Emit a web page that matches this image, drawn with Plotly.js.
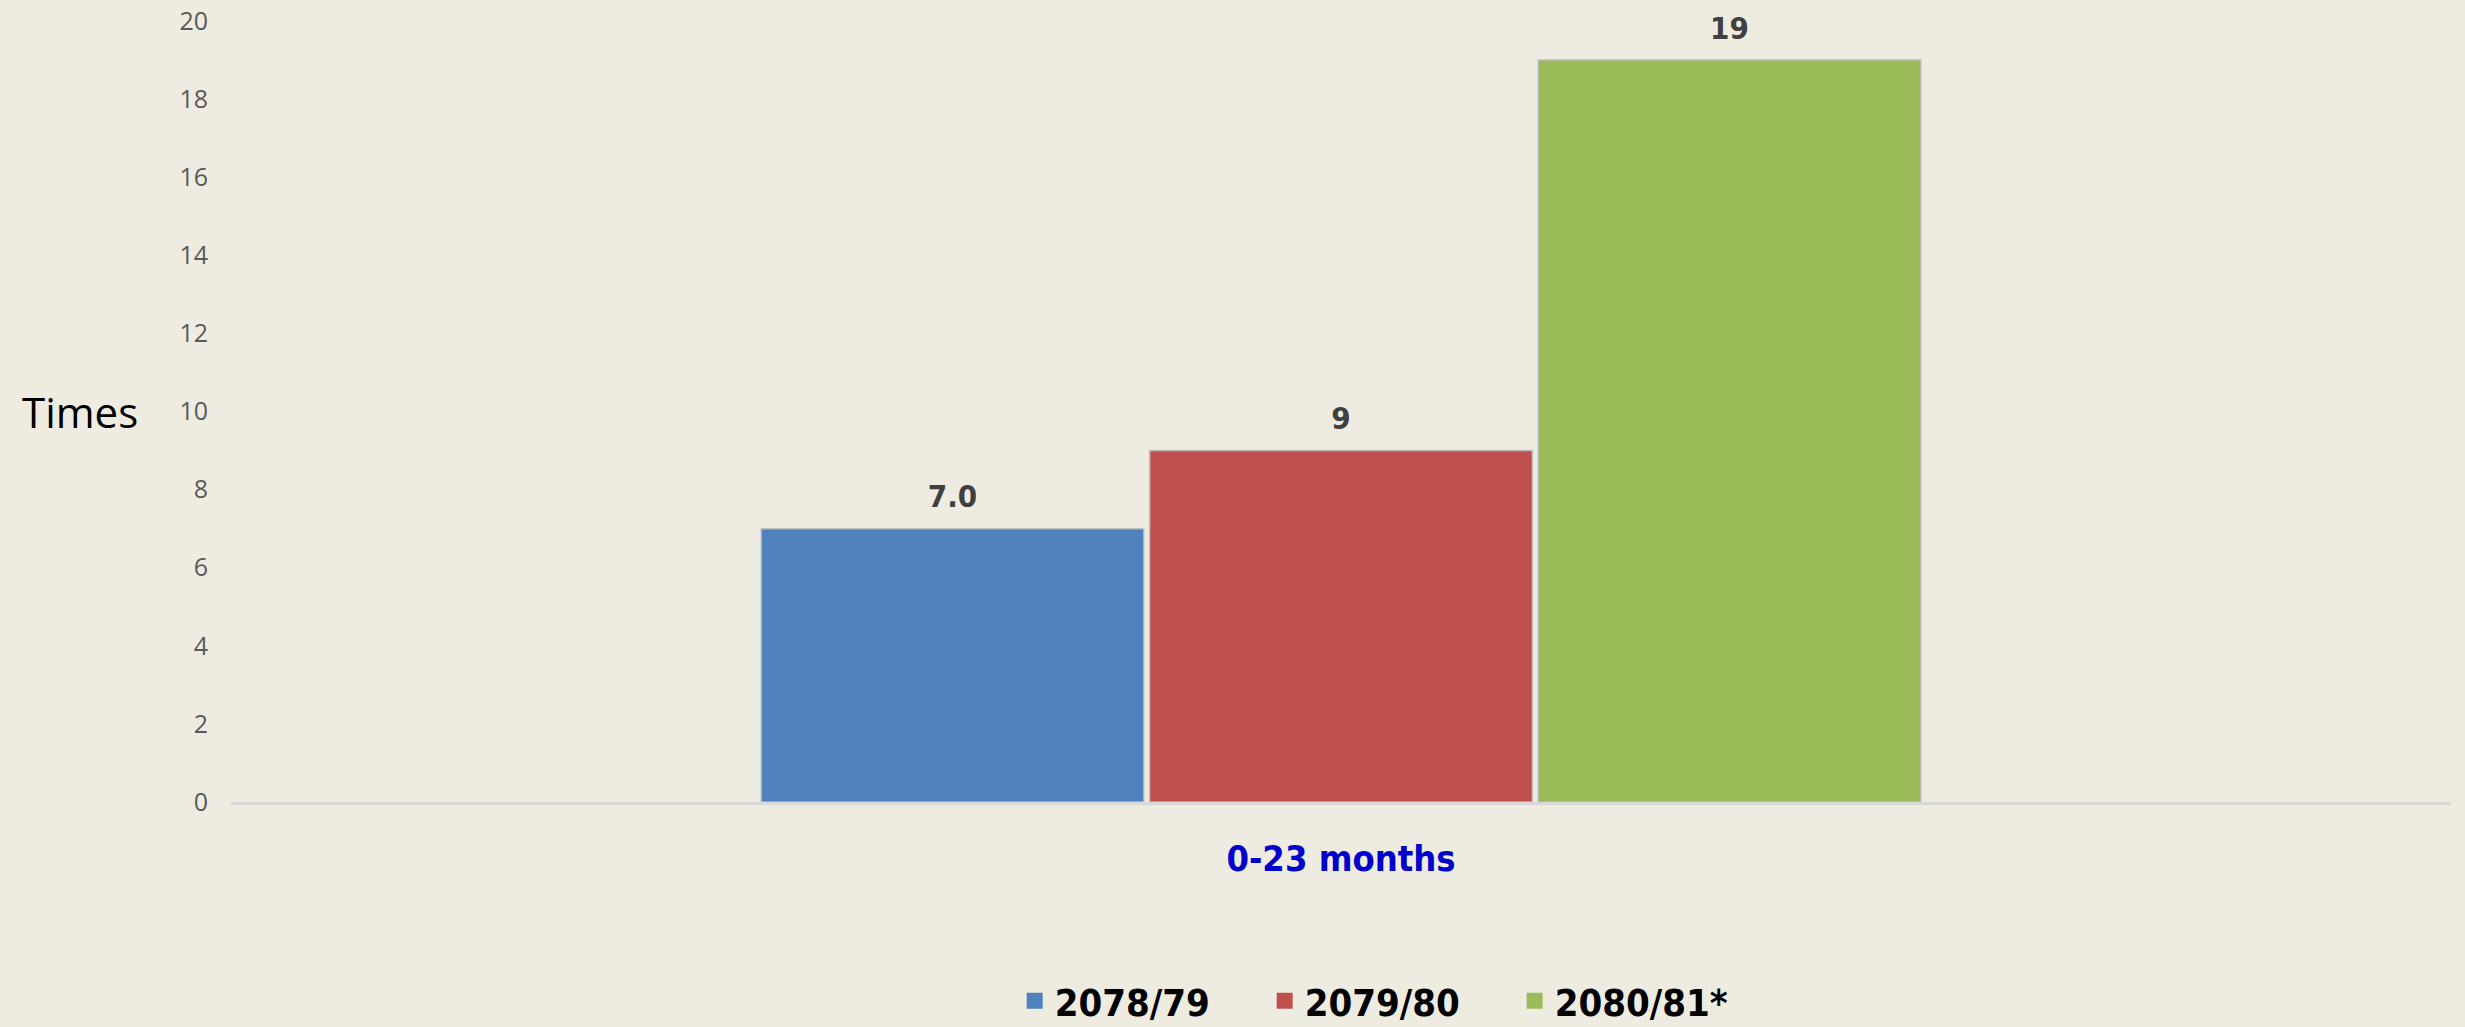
<!DOCTYPE html>
<html>
<head>
<meta charset="utf-8">
<script src="https://cdn.plot.ly/plotly-3.0.1.min.js"></script>
<style>
  html, body { margin: 0; padding: 0; background: #EEECE1; }
  #chart { width: 2465px; height: 1027px; }
</style>
</head>
<body>
<div id="chart"></div>
<script>
// ---- data ----
const categories = ["0-23 months"];
const seriesNames = ["2078/79", "2079/80", "2080/81*"];
const values2078 = [7.0];
const values2079 = [9];
const values2080 = [19];
const labels2078 = ["7.0"];
const labels2079 = ["9"];
const labels2080 = ["19"];
const yTickVals = [0, 2, 4, 6, 8, 10, 12, 14, 16, 18, 20];

// ---- styles ----
const colors = ["#4F81BD", "#C0504D", "#9BBB59"];
const narrow = "Liberation Sans Narrow, Arial Narrow, DejaVu Sans Condensed, sans-serif";
const allValues = [values2078, values2079, values2080];
const allLabels = [labels2078, labels2079, labels2080];

const traces = [];
seriesNames.forEach((name, i) => {
  traces.push({
    type: "bar",
    name: name,
    x: categories,
    y: allValues[i],
    marker: { color: colors[i], line: { color: "rgba(190,190,190,0.9)", width: 1.5 } },
    showlegend: false,
    hoverinfo: "skip"
  });
});
seriesNames.forEach((name, i) => {
  traces.push({
    type: "scatter",
    mode: "markers+text",
    x: categories,
    y: allValues[i],
    text: allLabels[i],
    textposition: "top center",
    cliponaxis: false,
    textfont: { family: narrow, size: 31, color: "#404040", weight: "bold" },
    marker: { size: 20, opacity: 0 },
    showlegend: false,
    hoverinfo: "skip"
  });
});
// legend entries (square swatches), on a hidden overlay axis
seriesNames.forEach((name, i) => {
  traces.push({
    type: "scatter",
    mode: "markers",
    name: name,
    x: [null],
    y: [null],
    xaxis: "x2",
    yaxis: "y2",
    marker: { symbol: "square", size: 16, color: colors[i] },
    showlegend: true,
    hoverinfo: "skip"
  });
});

const layout = {
  width: 2465,
  height: 1027,
  margin: { l: 231, r: 14, t: 21, b: 225, autoexpand: false },
  paper_bgcolor: "#EEECE1",
  plot_bgcolor: "#EEECE1",
  barmode: "group",
  bargap: 0.475,
  bargroupgap: 0.015,
  scattermode: "group",
  scattergap: 0.475,
  showlegend: true,
  legend: {
    orientation: "h",
    x: 0.353,
    xanchor: "left",
    y: -0.255,
    yanchor: "middle",
    entrywidth: 205,
    font: { family: narrow, size: 38, color: "#000000", weight: "bold" },
    bgcolor: "rgba(0,0,0,0)"
  },
  xaxis: {
    type: "category",
    showline: true,
    linecolor: "#D9D9D9",
    linewidth: 3,
    showgrid: false,
    zeroline: false,
    ticks: "",
    ticklabelstandoff: 23,
    tickfont: { family: narrow, size: 36, color: "#0000CC", weight: "bold" },
    fixedrange: true
  },
  yaxis: {
    range: [0, 20],
    tickvals: yTickVals,
    showline: false,
    showgrid: false,
    zeroline: false,
    ticks: "",
    ticklabelstandoff: 22,
    tickfont: { family: "Open Sans, sans-serif", size: 25, color: "#595959" },
    fixedrange: true
  },
  xaxis2: { overlaying: "x", visible: false, fixedrange: true },
  yaxis2: { overlaying: "y", visible: false, fixedrange: true },
  annotations: [{
    text: "Times",
    xref: "paper", yref: "paper",
    x: -(231 - 20) / 2220, xanchor: "left",
    y: 0.5, yanchor: "middle",
    showarrow: false,
    font: { family: "Open Sans, sans-serif", size: 42, color: "#000000" }
  }]
};

Plotly.newPlot("chart", traces, layout, { displayModeBar: false, staticPlot: true });
</script>
</body>
</html>
